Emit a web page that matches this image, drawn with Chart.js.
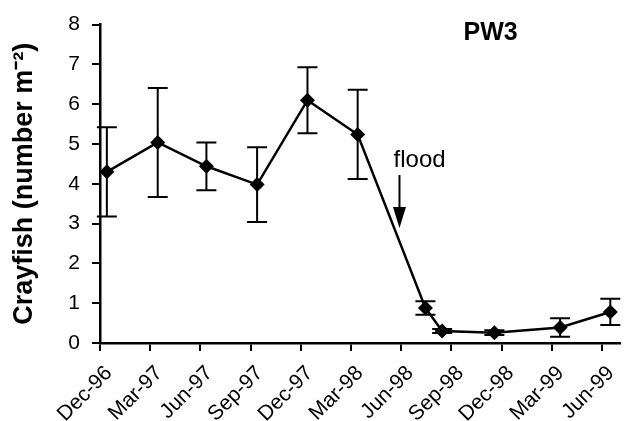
<!DOCTYPE html>
<html>
<head>
<meta charset="utf-8">
<script src="https://cdn.jsdelivr.net/npm/chart.js@4"></script>
<style>
  html, body { margin: 0; padding: 0; background: #fff; }
  #wrap { width: 627px; height: 421px; }
</style>
</head>
<body>
<div id="wrap"><canvas id="c" width="627" height="421"></canvas></div>
<script>
// Quarterly axis labels and their positions (months since 1 Dec 1996)
const tickLabels = ['Dec-96', 'Mar-97', 'Jun-97', 'Sep-97', 'Dec-97', 'Mar-98',
                    'Jun-98', 'Sep-98', 'Dec-98', 'Mar-99', 'Jun-99'];
const tickMonths = [0, 3, 6, 9, 12, 15, 18, 21, 24, 27, 30];

// Sampling dates (months since 1 Dec 1996), mean density and its error
const sampleMonths    = [0.41, 3.45, 6.36, 9.39, 12.4, 15.4, 19.45, 20.45, 23.57, 27.5, 30.5];
const crayfishDensity = [4.30, 5.04, 4.44, 3.98, 6.10, 5.24, 0.88, 0.30, 0.26, 0.39, 0.78];
const standardError   = [1.12, 1.37, 0.60, 0.94, 0.83, 1.12, 0.17, 0.05, 0.06, 0.23, 0.33];

// Flood event marker
const floodMonth = 17.9;
const floodLabel = 'flood';
const siteLabel = 'PW3';

const FONT = "'Liberation Sans', Arial, Helvetica, sans-serif";

const errorBars = {
  id: 'errorBars',
  afterDatasetsDraw(chart) {
    const { ctx, scales: { x, y } } = chart;
    const cap = 10;
    ctx.save();
    ctx.strokeStyle = '#000';
    ctx.lineWidth = 2;
    sampleMonths.forEach((m, i) => {
      const px = x.getPixelForValue(m);
      const top = y.getPixelForValue(crayfishDensity[i] + standardError[i]);
      const bot = y.getPixelForValue(crayfishDensity[i] - standardError[i]);
      ctx.beginPath();
      ctx.moveTo(px, top); ctx.lineTo(px, bot);
      ctx.moveTo(px - cap, top); ctx.lineTo(px + cap, top);
      ctx.moveTo(px - cap, bot); ctx.lineTo(px + cap, bot);
      ctx.stroke();
    });
    ctx.restore();
  }
};

const annotations = {
  id: 'annotations',
  afterDraw(chart) {
    const { ctx, scales: { x, y } } = chart;
    ctx.save();
    ctx.fillStyle = '#000';
    ctx.strokeStyle = '#000';

    // site name
    ctx.font = `bold 25px ${FONT}`;
    ctx.textAlign = 'center';
    ctx.textBaseline = 'middle';
    ctx.fillText(siteLabel, x.getPixelForValue(23.35), y.getPixelForValue(7.78));

    // flood arrow
    const ax = x.getPixelForValue(floodMonth);
    const yTop = y.getPixelForValue(4.22);
    const yTip = y.getPixelForValue(2.89);
    ctx.lineWidth = 2;
    ctx.beginPath();
    ctx.moveTo(ax, yTop);
    ctx.lineTo(ax, yTip - 14);
    ctx.stroke();
    ctx.beginPath();
    ctx.moveTo(ax - 6.5, yTip - 21);
    ctx.lineTo(ax + 6.5, yTip - 21);
    ctx.lineTo(ax, yTip);
    ctx.closePath();
    ctx.fill();

    ctx.font = `24px ${FONT}`;
    ctx.textAlign = 'center';
    ctx.textBaseline = 'alphabetic';
    ctx.fillText(floodLabel, x.getPixelForValue(19.1), y.getPixelForValue(4.43));
    ctx.restore();
  }
};

new Chart(document.getElementById('c'), {
  type: 'line',
  data: {
    datasets: [{
      data: sampleMonths.map((m, i) => ({ x: m, y: crayfishDensity[i] })),
      borderColor: '#000',
      backgroundColor: '#000',
      borderWidth: 2.5,
      pointStyle: 'rectRot',
      pointRadius: 7.5,
      pointHoverRadius: 7.5,
      pointBorderWidth: 0,
      tension: 0,
      clip: false
    }]
  },
  options: {
    responsive: false,
    animation: false,
    events: [],
    layout: { padding: { top: 24, right: 1, left: 0, bottom: 0 } },
    plugins: {
      legend: { display: false },
      tooltip: { enabled: false }
    },
    scales: {
      x: {
        type: 'linear',
        min: 0,
        max: 31.05,
        afterBuildTicks(scale) {
          scale.ticks = tickMonths.map(v => ({ value: v }));
        },
        afterFit(scale) {
          scale.height = 78;
          scale.paddingLeft = 0;
          scale.paddingRight = 0;
        },
        ticks: {
          autoSkip: false,
          minRotation: 45,
          maxRotation: 45,
          padding: 10,
          labelOffset: 9,
          color: '#000',
          font: { family: FONT, size: 21 },
          callback: (v, i) => tickLabels[i]
        },
        grid: {
          drawOnChartArea: false,
          drawTicks: true,
          tickLength: 8,
          color: '#000',
          lineWidth: 2
        },
        border: { color: '#000', width: 2.5 }
      },
      y: {
        min: 0,
        max: 8,
        afterFit(scale) { scale.width = 100; },
        ticks: {
          stepSize: 1,
          padding: 12,
          color: '#000',
          font: { family: FONT, size: 21 }
        },
        grid: {
          drawOnChartArea: false,
          drawTicks: true,
          tickLength: 8,
          color: '#000',
          lineWidth: 2
        },
        border: { color: '#000', width: 2.5 },
        title: {
          display: true,
          text: 'Crayfish (number m⁻²)',
          color: '#000',
          font: { family: FONT, size: 27, weight: 'bold' },
          padding: { top: 8, bottom: 0 }
        }
      }
    }
  },
  plugins: [errorBars, annotations]
});
</script>
</body>
</html>
